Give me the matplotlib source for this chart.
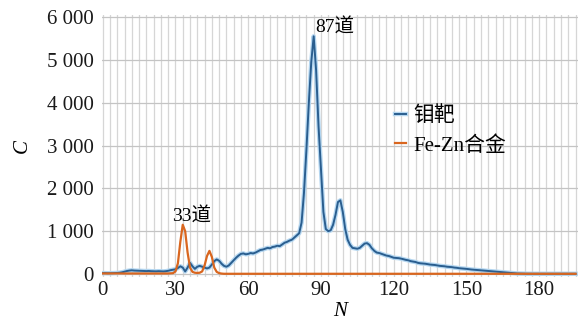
import numpy as np
import matplotlib
matplotlib.use("Agg")
import matplotlib.pyplot as plt
import matplotlib.patheffects as pe
from matplotlib.ticker import MultipleLocator, FixedLocator

plt.rcParams['font.family'] = ['Liberation Serif', 'Noto Sans CJK SC']

# channel number N and counts C for the Mo target
mo_n = list(range(0, 196))
mo_c = [20, 21, 18, 18, 20, 22, 25, 30, 40, 55,
        70, 80, 86, 80, 78, 75, 72, 70, 68, 71,
        66, 64, 62, 66, 62, 60, 65, 75, 90, 100,
        110, 140, 180, 150, 60, 150, 260, 180, 120, 170,
        190, 170, 150, 130, 150, 220, 300, 340, 310, 240,
        190, 170, 200, 260, 320, 380, 430, 470, 480, 460,
        470, 490, 480, 500, 530, 560, 570, 590, 610, 600,
        630, 640, 660, 650, 690, 730, 750, 780, 800, 850,
        900, 950, 1200, 1900, 2900, 4000, 4950, 5550, 4750, 3450,
        2450, 1450, 1050, 1000, 1020, 1150, 1380, 1680, 1720, 1450,
        1050, 800, 680, 610, 600, 590, 610, 660, 710, 720,
        680, 600, 540, 500, 490, 470, 450, 430, 420, 400,
        380, 375, 370, 360, 345, 330, 320, 300, 290, 280,
        260, 250, 245, 240, 230, 220, 215, 210, 200, 190,
        185, 180, 170, 165, 160, 150, 145, 135, 130, 125,
        120, 112, 105, 100, 95, 90, 85, 80, 75, 70,
        65, 60, 55, 50, 45, 40, 35, 30, 25, 20,
        15, 12, 10, 8, 8, 6, 5, 5, 5, 5,
        5, 5, 5, 5, 5, 5, 5, 5, 5, 5,
        5, 5, 5, 5, 5, 5]

# Fe-Zn alloy
fezn_n = list(range(0, 196))
fezn_c = [12, 12, 10, 10, 10, 10, 10, 10, 10, 10,
          10, 10, 10, 10, 10, 10, 10, 10, 10, 10,
          10, 10, 10, 10, 10, 10, 10, 12, 15, 20,
          60, 250, 750, 1150, 1000, 500, 150, 50, 30, 25,
          30, 60, 200, 420, 540, 400, 150, 50, 20, 10] + [5] * 146

peak_labels = [(87, '87道'), (33, '33道')]
yticks = [0, 1000, 2000, 3000, 4000, 5000, 6000]
ytick_labels = ['0', '1 000', '2 000', '3 000', '4 000', '5 000', '6 000']

fig = plt.figure(figsize=(5.78, 3.22), dpi=100)
ax = fig.add_axes([102 / 578, 1 - 277 / 322, 476 / 578, 262 / 322])

# blue series with a pale glow around it
ax.plot(mo_n, mo_c, color='#2a5e8f', linewidth=1.4, label='钼靶', zorder=3,
        path_effects=[pe.Stroke(linewidth=3.2, foreground='#b4d6f0'), pe.Normal()])
ax.plot(fezn_n, fezn_c, color='#d9661f', linewidth=1.6, label='Fe-Zn合金', zorder=4)

ax.set_xlim(-0.3, 196)
ax.set_ylim(-70, 6047)
ax.xaxis.set_major_locator(MultipleLocator(30))
ax.xaxis.set_minor_locator(MultipleLocator(3))
ax.yaxis.set_major_locator(FixedLocator(yticks))
ax.set_yticklabels(ytick_labels)
ax.grid(True, which='minor', axis='x', color='#d6d6d6', linewidth=0.9)
ax.grid(True, which='major', axis='x', color='#d6d6d6', linewidth=0.9)
ax.grid(True, which='major', axis='y', color='#c4c4c4', linewidth=0.9)
ax.set_axisbelow(True)
for s in ax.spines.values():
    s.set_visible(False)
ax.tick_params(which='both', length=0, labelsize=15, colors='#1a1a1a')
ax.tick_params(axis='y', pad=6)
ax.tick_params(axis='x', pad=3)

ax.set_xlabel('N', fontsize=15, style='italic', labelpad=1)
ax.set_ylabel('C', fontsize=15, style='italic', labelpad=11)

# channel labels above the peaks
for n, txt in peak_labels:
    c = mo_c[mo_n.index(n)] if n == 87 else fezn_c[fezn_n.index(n)]
    x = n + 0.5 if n == 87 else n - 4.5
    ax.text(x, c + 10, txt, fontsize=14, ha='left', va='bottom')

ax.legend(loc='center left', bbox_to_anchor=(0.577, 0.557), frameon=False,
          fontsize=15, handlelength=0.5, handletextpad=0.35, labelspacing=0.45)

fig.savefig('out.png', dpi=100)
